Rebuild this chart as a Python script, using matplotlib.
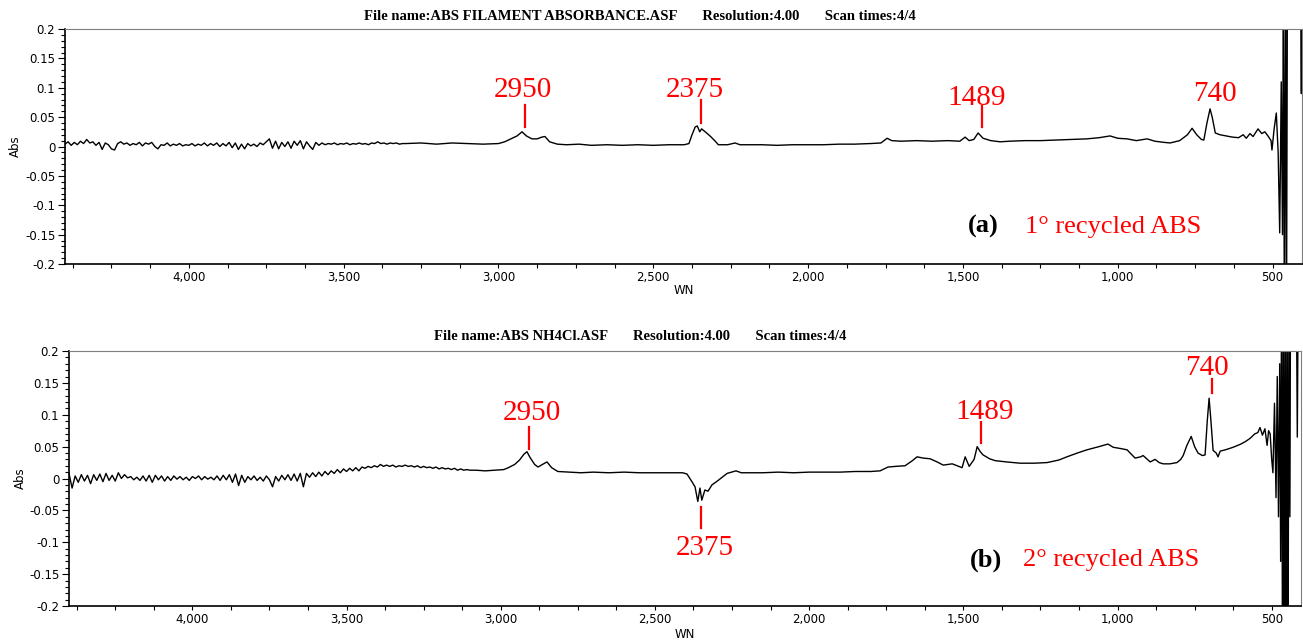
import numpy as np
import matplotlib
matplotlib.use("Agg")
import matplotlib.pyplot as plt
from matplotlib.ticker import MultipleLocator, FuncFormatter

plt.rcParams['axes.unicode_minus'] = False

# ---- panel (a): 1st recycled ABS ----
# noisy high-wavenumber part, sampled every 10 cm-1 from 4400
abs_a_noise = [
    0.004, 0.008, 0.002, 0.007, 0.003, 0.009, 0.005, 0.012, 0.006, 0.008,
    0.002, 0.007, -0.005, 0.006, 0.003, -0.004, -0.006, 0.005, 0.008, 0.004,
    0.006, 0.002, 0.005, 0.003, 0.007, 0.001, 0.006, 0.004, 0.007, 0.000,
    -0.004, 0.003, 0.002, 0.006, 0.001, 0.004, 0.002, 0.005, 0.001, 0.003,
    0.002, 0.005, 0.001, 0.004, 0.002, 0.006, 0.001, 0.005, 0.002, 0.006,
    0.000, 0.005, 0.001, 0.007, -0.002, 0.006, -0.005, 0.004, -0.004, 0.005,
    0.001, 0.004, 0.000, 0.006, 0.003, 0.008, 0.013, -0.003, 0.009, -0.004,
    0.007, 0.000, 0.008, -0.003, 0.009, 0.002, 0.010, -0.004, 0.008, 0.001,
    -0.005, 0.007, 0.002, 0.006, 0.003, 0.005, 0.004, 0.006, 0.003, 0.005,
    0.004, 0.006, 0.003, 0.005, 0.004, 0.006, 0.004, 0.005, 0.003, 0.006,
    0.005, 0.008, 0.005, 0.006, 0.004, 0.006, 0.005, 0.006, 0.004, 0.005,
]
wn_a_peaks = [
    3300, 3250, 3200, 3150, 3100, 3050, 3000, 2980, 2960, 2940, 2924, 2910,
    2892, 2875, 2860, 2850, 2835, 2810, 2780, 2740, 2700, 2650, 2600, 2550,
    2500, 2450, 2400, 2385, 2375, 2365, 2358, 2350, 2344, 2330, 2315, 2300,
    2290, 2260, 2236, 2220, 2150, 2100, 2050, 2000, 1950, 1900, 1850, 1800,
    1765, 1745, 1730, 1700, 1650, 1600, 1550, 1510, 1493, 1480, 1465, 1451,
    1435, 1410, 1380, 1350, 1300, 1250, 1200, 1150, 1100, 1060, 1025, 1000,
    970, 940, 905, 880, 850, 831, 800, 775, 760, 745, 730, 722, 712, 702,
    695, 685, 670, 650, 630, 610, 595, 585, 573, 563, 547, 535, 525, 515,
    505, 502, 495, 488, 482, 477, 472, 468, 465, 462, 458, 455, 452, 410,
    407, 405,
]
abs_a_peaks = [
    0.005, 0.006, 0.004, 0.006, 0.005, 0.004, 0.005, 0.008, 0.013, 0.018, 0.025, 0.018,
    0.013, 0.013, 0.016, 0.017, 0.008, 0.004, 0.003, 0.004, 0.002, 0.003, 0.002, 0.003,
    0.002, 0.003, 0.003, 0.005, 0.020, 0.033, 0.035, 0.025, 0.030, 0.024, 0.017, 0.009,
    0.003, 0.003, 0.006, 0.003, 0.003, 0.002, 0.003, 0.003, 0.003, 0.004, 0.004, 0.005,
    0.006, 0.014, 0.010, 0.009, 0.010, 0.009, 0.010, 0.009, 0.016, 0.010, 0.012, 0.023,
    0.014, 0.010, 0.008, 0.009, 0.010, 0.010, 0.011, 0.012, 0.013, 0.015, 0.018, 0.014,
    0.013, 0.010, 0.013, 0.009, 0.007, 0.006, 0.010, 0.020, 0.031, 0.020, 0.012, 0.011, 0.040, 0.064,
    0.050, 0.023, 0.020, 0.018, 0.016, 0.015, 0.020, 0.014, 0.022, 0.017, 0.030, 0.022, 0.025, 0.018,
    0.010, -0.006, 0.030, 0.057, -0.010, -0.147, 0.110, -0.150, 0.300, -0.300, 0.300, -0.300, 0.300, 0.300,
    0.090, 0.300,
]

# ---- panel (b): 2nd recycled ABS ----
abs_b_noise = [
    0.008, -0.015, 0.004, -0.006, 0.006, -0.004, 0.005, -0.008, 0.006, -0.003,
    0.007, -0.005, 0.008, -0.003, 0.005, -0.004, 0.009, 0.000, 0.006, 0.001,
    0.003, -0.002, 0.002, -0.003, 0.004, -0.004, 0.005, -0.006, 0.005, -0.002,
    0.004, -0.004, 0.003, -0.003, 0.004, -0.001, 0.003, -0.002, 0.002, -0.003,
    0.003, 0.000, 0.004, -0.002, 0.003, -0.001, 0.002, -0.002, 0.004, -0.003,
    0.005, -0.002, 0.006, -0.006, 0.007, -0.011, 0.005, -0.006, 0.003, -0.002,
    0.004, -0.003, 0.002, -0.004, 0.004, -0.002, -0.013, 0.003, -0.004, 0.005,
    -0.002, 0.006, -0.003, 0.007, -0.004, 0.008, -0.013, 0.008, 0.002, 0.009,
    0.003, 0.010, 0.004, 0.011, 0.006, 0.012, 0.008, 0.014, 0.009, 0.015,
    0.011, 0.016, 0.012, 0.017, 0.012, 0.018, 0.016, 0.019, 0.017, 0.020,
    0.018, 0.022, 0.019, 0.021, 0.019, 0.021, 0.018, 0.020, 0.019, 0.021,
    0.019, 0.020, 0.018, 0.020, 0.017, 0.019, 0.017, 0.018, 0.016, 0.018,
    0.015, 0.017, 0.015, 0.016, 0.014, 0.016, 0.013, 0.015, 0.013, 0.014,
    0.013,
]
wn_b_peaks = [
    3080, 3050, 3020, 2990, 2975, 2955, 2939, 2925, 2915, 2905, 2890, 2879,
    2865, 2850, 2835, 2815, 2780, 2740, 2700, 2650, 2600, 2550, 2500, 2450,
    2410, 2396, 2380, 2370, 2361, 2354, 2348, 2338, 2328, 2315, 2295, 2266,
    2237, 2220, 2150, 2100, 2050, 2000, 1950, 1900, 1850, 1800, 1770, 1744,
    1720, 1689, 1665, 1650, 1630, 1608, 1585, 1565, 1550, 1536, 1520, 1504,
    1494, 1481, 1465, 1455, 1445, 1436, 1415, 1397, 1360, 1316, 1270, 1228,
    1190, 1164, 1130, 1099, 1060, 1031, 1014, 990, 969, 955, 943, 925,
    917, 894, 878, 865, 852, 830, 807, 795, 787, 775, 761, 750,
    739, 725, 716, 709, 703, 697, 690, 680, 674, 667, 650, 625,
    600, 585, 570, 555, 545, 538, 530, 522, 515, 510, 505, 500,
    496, 491, 486, 482, 478, 474, 471, 468, 465, 462, 459, 456,
    453, 450, 447, 444, 441, 439, 420, 417, 414, 405,
]
abs_b_peaks = [
    0.013, 0.012, 0.013, 0.014, 0.017, 0.022, 0.029, 0.038, 0.042, 0.033, 0.022, 0.018,
    0.022, 0.026, 0.017, 0.011, 0.010, 0.009, 0.010, 0.009, 0.010, 0.009, 0.009, 0.009,
    0.009, 0.007, -0.005, -0.013, -0.036, -0.015, -0.034, -0.018, -0.020, -0.010, -0.003, 0.008,
    0.012, 0.009, 0.009, 0.010, 0.009, 0.010, 0.010, 0.010, 0.011, 0.011, 0.012, 0.018,
    0.019, 0.020, 0.028, 0.034, 0.032, 0.031, 0.026, 0.021, 0.022, 0.023, 0.020, 0.017,
    0.034, 0.019, 0.030, 0.050, 0.042, 0.037, 0.031, 0.028, 0.026, 0.024, 0.024, 0.025,
    0.029, 0.034, 0.040, 0.045, 0.050, 0.054, 0.049, 0.047, 0.045, 0.038, 0.032, 0.034,
    0.036, 0.026, 0.030, 0.025, 0.023, 0.023, 0.025, 0.030, 0.036, 0.052, 0.066, 0.050,
    0.040, 0.036, 0.037, 0.090, 0.126, 0.090, 0.044, 0.040, 0.034, 0.043, 0.045, 0.049,
    0.054, 0.058, 0.063, 0.070, 0.072, 0.080, 0.068, 0.078, 0.052, 0.075, 0.070, 0.030,
    0.009, 0.118, -0.030, 0.160, -0.060, 0.180, -0.130, 0.300, -0.300, 0.300, -0.300, 0.300,
    -0.300, 0.300, -0.300, 0.300, -0.060, 0.300, 0.300, 0.065, 0.300, 0.300,
]

wn_a = np.concatenate([4400 - 10 * np.arange(len(abs_a_noise)), wn_a_peaks])
ab_a = np.concatenate([abs_a_noise, abs_a_peaks])
wn_b = np.concatenate([4400 - 10 * np.arange(len(abs_b_noise)), wn_b_peaks])
ab_b = np.concatenate([abs_b_noise, abs_b_peaks])

titles = [
    "File name:ABS FILAMENT ABSORBANCE.ASF       Resolution:4.00       Scan times:4/4",
    "File name:ABS NH4Cl.ASF       Resolution:4.00       Scan times:4/4",
]
# (label, text x, text baseline y, line x, line y0, line y1) ; None = no marker line
marks_a = [
    ("2950", 2921, 0.085, 2914, 0.033, 0.071),
    ("2375", 2365, 0.085, 2346, 0.040, 0.079),
    ("1489", 1455, 0.071, 1437, 0.033, 0.069),
    ("740", 686, 0.078, None, None, None),
]
marks_b = [
    ("2950", 2900, 0.092, 2907, 0.047, 0.081),
    ("2375", 2339, -0.120, 2351, -0.078, -0.045),
    ("1489", 1431, 0.094, 1443, 0.055, 0.088),
    ("740", 711, 0.162, 693, 0.134, 0.156),
]
sample_labels = [("(a)", "1° recycled ABS", 1483, 1299, -0.147),
                 ("(b)", "2° recycled ABS", 1479, 1308, -0.138)]

W, H = 1303, 640
fig = plt.figure(figsize=(W / 100, H / 100), dpi=100)

# axes boxes in pixels: left, top, right, bottom
boxes = [(65, 29, 1302, 264), (69, 351, 1301, 606)]
title_y = [16, 337]
xlab_y = [291, 634]
ylab_x = [15, 20]

fmt_y = FuncFormatter(lambda v, p: f"{round(v, 2):g}")
fmt_x = FuncFormatter(lambda v, p: f"{int(round(v)):,}")

for i, (wn, ab, marks) in enumerate([(wn_a, ab_a, marks_a), (wn_b, ab_b, marks_b)]):
    l, t, r, b = boxes[i]
    ax = fig.add_axes([l / W, 1 - b / H, (r - l) / W, (b - t) / H])
    ax.plot(wn, ab, color="black", lw=1.0)
    ax.set_xlim(4400, 405)
    ax.set_ylim(-0.2, 0.2)
    ax.xaxis.set_major_locator(MultipleLocator(500))
    ax.xaxis.set_minor_locator(MultipleLocator(125))
    ax.yaxis.set_major_locator(MultipleLocator(0.05))
    ax.yaxis.set_minor_locator(MultipleLocator(0.01))
    ax.yaxis.set_major_formatter(fmt_y)
    ax.xaxis.set_major_formatter(fmt_x)
    ax.tick_params(axis="both", which="both", direction="out", labelsize=8.5,
                   colors="black", width=0.8)
    ax.tick_params(axis="y", which="major", length=5, pad=2)
    ax.tick_params(axis="y", which="minor", length=3)
    ax.tick_params(axis="x", which="both", length=3, pad=2)
    for s in ["top", "right"]:
        ax.spines[s].set_color("#7f7f7f")
        ax.spines[s].set_linewidth(0.8)
    for s in ["left", "bottom"]:
        ax.spines[s].set_linewidth(1.2)

    for lab, tx, ty, lx, ly0, ly1 in marks:
        ax.text(tx, ty, lab, color="red", fontsize=21, family="Liberation Serif",
                ha="center", va="baseline")
        if lx is not None:
            ax.plot([lx, lx], [ly0, ly1], color="red", lw=1.6)

    tag, desc, xt, xd, yb = sample_labels[i]
    ax.text(xt, yb, tag, color="black", fontsize=19, family="Liberation Serif",
            fontweight="bold", ha="left", va="baseline")
    ax.text(xd, yb, desc, color="red", fontsize=19, family="Liberation Serif",
            ha="left", va="baseline")

    fig.text(640 / W, 1 - title_y[i] / H, titles[i], ha="center", va="center",
             fontsize=10.5, family="Liberation Serif", fontweight="bold")
    fig.text((l + r) / 2 / W, 1 - xlab_y[i] / H, "WN", ha="center", va="center",
             fontsize=8.5)
    fig.text(ylab_x[i] / W, 1 - (t + b) / 2 / H, "Abs", ha="center", va="center",
             rotation=90, fontsize=8.5)

fig.savefig("out.png", dpi=100)
